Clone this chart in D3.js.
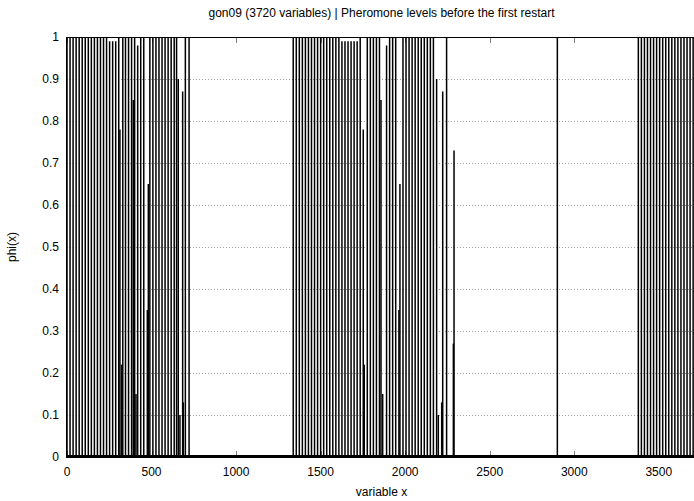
<!DOCTYPE html>
<html>
<head>
<meta charset="utf-8">
<script src="https://cdn.jsdelivr.net/npm/d3@7"></script>
<style>
  body { margin: 0; background: #fff; }
  text { font-family: "Liberation Sans", Arial, sans-serif; }
</style>
</head>
<body>
<div id="chart"></div>
<script>
// variables whose pheromone level is 1
const fullVars = [0, 18, 36, 54, 72, 90, 108, 126, 144, 162, 180, 198, 216, 234, 306,
  330, 346, 364, 382, 400, 436, 454, 490, 508, 526, 544, 562, 580, 598, 616, 634, 648, 700, 722,
  1338, 1356, 1374, 1392, 1410, 1428, 1446, 1464, 1482, 1500, 1518, 1536, 1554, 1572, 1590, 1608,
  1734, 1776, 1794, 1812, 1830, 1848, 1908, 1926, 1944, 1987, 2005,
  2023, 2041, 2059, 2077, 2095, 2113, 2131, 2149, 2167, 2245,
  2900,
  3379, 3397, 3415, 3433, 3451, 3469, 3487, 3505, 3523, 3541, 3559, 3577, 3595, 3613, 3631, 3649, 3667,
  3685, 3703, 3719];
// variables with a pheromone level below 1
const partVars = [252, 270, 288, 313, 323, 392, 408, 418, 475, 481, 658, 668, 684, 688,
  1626, 1644, 1662, 1680, 1698, 1716, 1752, 1758, 1857, 1867, 1890, 1963, 1969,
  2186, 2196, 2216, 2222, 2285, 2289];
const partVals = [0.99, 0.99, 0.99, 0.78, 0.22, 0.85, 0.15, 0.98, 0.35, 0.65, 0.90, 0.10, 0.87, 0.13,
  0.99, 0.99, 0.99, 0.99, 0.99, 0.99, 0.78, 0.22, 0.85, 0.15, 0.98, 0.35, 0.65,
  0.90, 0.10, 0.13, 0.87, 0.27, 0.73];

const xTicks = [0, 500, 1000, 1500, 2000, 2500, 3000, 3500];
const yTicks = [0, 0.1, 0.2, 0.3, 0.4, 0.5, 0.6, 0.7, 0.8, 0.9, 1];
const nVars = 3720;

const W = 694, H = 501;
const margin = { top: 37, right: -2, bottom: 44, left: 67 };

const svg = d3.select("#chart")
  .append("svg")
  .attr("width", W)
  .attr("height", H);

const x = d3.scaleLinear()
  .domain([0, nVars])
  .range([margin.left, W - margin.right]);

const y = d3.scaleLinear()
  .domain([0, 1])
  .range([H - margin.bottom, margin.top]);

// dotted grid
svg.append("g")
  .selectAll("line")
  .data(yTicks.filter(d => d > 0 && d < 1))
  .join("line")
  .attr("x1", x(0))
  .attr("x2", x(nVars))
  .attr("y1", d => Math.round(y(d)) + 0.5)
  .attr("y2", d => Math.round(y(d)) + 0.5)
  .attr("stroke", "#a0a0a0")
  .attr("stroke-width", 1)
  .attr("stroke-dasharray", "1,2");

// ticks (inside, mirrored)
svg.append("g")
  .selectAll("line")
  .data(xTicks)
  .join("line")
  .attr("x1", d => Math.round(x(d)) + 0.5)
  .attr("x2", d => Math.round(x(d)) + 0.5)
  .attr("y1", y(0))
  .attr("y2", y(0) - 6)
  .attr("stroke", "#808080");
svg.append("g")
  .selectAll("line")
  .data(xTicks)
  .join("line")
  .attr("x1", d => Math.round(x(d)) + 0.5)
  .attr("x2", d => Math.round(x(d)) + 0.5)
  .attr("y1", y(1))
  .attr("y2", y(1) + 6)
  .attr("stroke", "#808080");

// impulses
const data = fullVars.map(v => ({ v: v, phi: 1 }))
  .concat(partVars.map((v, i) => ({ v: v, phi: partVals[i] })));

svg.append("g")
  .selectAll("line")
  .data(data)
  .join("line")
  .attr("x1", d => x(d.v))
  .attr("x2", d => x(d.v))
  .attr("y1", y(0))
  .attr("y2", d => y(d.phi))
  .attr("stroke", "#000")
  .attr("stroke-width", 1.5);

// frame
svg.append("line")
  .attr("x1", x(0)).attr("x2", W)
  .attr("y1", y(1) + 0.5).attr("y2", y(1) + 0.5)
  .attr("stroke", "#000");
svg.append("line")
  .attr("x1", x(0) - 0.5).attr("x2", x(0) - 0.5)
  .attr("y1", y(1)).attr("y2", y(0))
  .attr("stroke", "#000");
svg.append("line")
  .attr("x1", x(0) - 1).attr("x2", W)
  .attr("y1", y(0) - 0.5).attr("y2", y(0) - 0.5)
  .attr("stroke", "#000")
  .attr("stroke-width", 3);

// tick labels
svg.append("g")
  .selectAll("text")
  .data(xTicks)
  .join("text")
  .attr("x", d => x(d))
  .attr("y", y(0) + 19)
  .attr("text-anchor", "middle")
  .style("font-size", "12px")
  .text(d => d);

svg.append("g")
  .selectAll("text")
  .data(yTicks)
  .join("text")
  .attr("x", x(0) - 8)
  .attr("y", d => y(d) + 4)
  .attr("text-anchor", "end")
  .style("font-size", "12px")
  .text(d => d);

// titles
svg.append("text")
  .attr("x", (x(0) + x(nVars)) / 2)
  .attr("y", 17)
  .attr("text-anchor", "middle")
  .style("font-size", "12px")
  .text("gon09 (3720 variables) | Pheromone levels before the first restart");

svg.append("text")
  .attr("x", (x(0) + x(nVars)) / 2)
  .attr("y", 496)
  .attr("text-anchor", "middle")
  .style("font-size", "12px")
  .text("variable x");

svg.append("text")
  .attr("transform", `translate(16, ${(y(0) + y(1)) / 2}) rotate(-90)`)
  .attr("text-anchor", "middle")
  .style("font-size", "12px")
  .text("phi(x)");
</script>
</body>
</html>
